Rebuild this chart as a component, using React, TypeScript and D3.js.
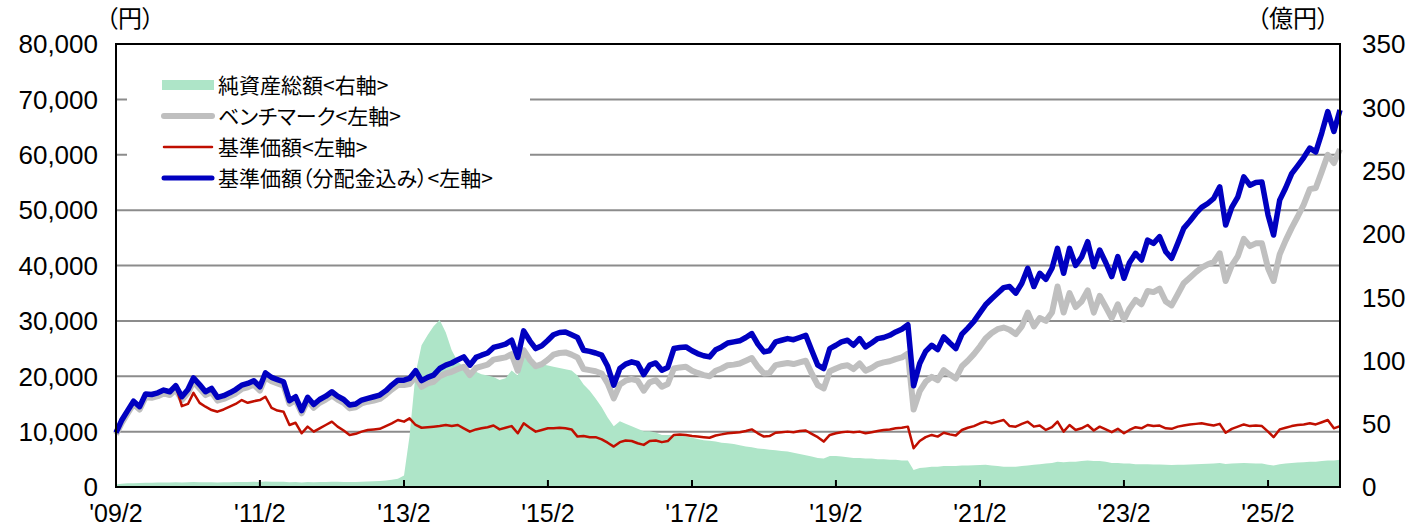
import React from 'react';
import * as d3 from 'd3';

// monthly closes, 2009/2 .. 2026/2
const startMonth = new Date(2009, 1, 1);
const endMonth = new Date(2026, 1, 1);

// 基準価額（分配金込み） 円
const navReinvested = [
  9800, 12000, 13800, 15500, 14500, 16800, 16700, 17000, 17500, 17200, 18300, 16300,
  17600, 19700, 18500, 17200, 17800, 16200, 16500, 17000, 17600, 18400, 18700, 19200,
  18100, 20600, 19800, 19400, 19000, 15600, 16300, 13800, 16200, 14900, 15800, 16400,
  17200, 16400, 15800, 14800, 15000, 15700, 16000, 16300, 16600, 17400, 18400, 19300,
  19300, 19600, 21000, 19200, 19800, 20200, 21400, 22000, 22400, 23000, 23500, 22000,
  23400, 23800, 24200, 25200, 25500, 25800, 26500, 23400, 28200, 26400, 25000, 25500,
  26500, 27500, 27900, 28000, 27500, 27000, 24700, 24500, 24200, 23800, 21800, 18400,
  21400, 22200, 22600, 22300, 20300, 22000, 22400, 21100, 21600, 25000, 25200, 25300,
  24600, 24100, 23700, 23500, 24800, 25300, 26000, 26200, 26400, 27000, 27700, 25800,
  24400, 24600, 26200, 26500, 26800, 26600, 27000, 27400, 24700, 22000, 21400, 25000,
  25600, 26200, 26500, 25600, 26800, 25300, 26000, 26800, 27000, 27400, 28000, 28500,
  29300, 18300, 22300, 24500, 25600, 24800, 27100, 26000, 25000, 27600, 28700, 29900,
  31500, 32900, 34000, 35000, 36000, 36200, 35000, 36800, 39500, 36200, 38600, 37500,
  39500, 43100, 38600, 43100, 40000, 41500, 44300, 39800, 42800, 40500, 38000, 41600,
  37700, 40500, 42200, 41000, 44600, 44000, 45200, 42500, 41300, 44000, 46700, 48000,
  49400, 50500, 51200, 52100, 54200, 47300, 50500, 52400, 56000, 54500, 55000, 55100,
  49100, 45500, 51800, 54000, 56600, 58000, 59500, 61200, 60500, 64000, 67800, 64200,
  68100,
];

// ベンチマーク 円
const benchmark = [
  9500, 11500, 13300, 15000, 14000, 16200, 16100, 16400, 16900, 16600, 17600, 15700,
  17000, 19000, 17800, 16600, 17100, 15600, 15900, 16400, 16900, 17700, 18000, 18500,
  17400, 19800, 19100, 18700, 18300, 15000, 15700, 13300, 15600, 14300, 15200, 15800,
  16500, 15800, 15200, 14200, 14400, 15100, 15400, 15600, 15900, 16700, 17600, 18400,
  18400, 18600, 19900, 18100, 18700, 19000, 20000, 20500, 20800, 21300, 21700, 20200,
  21500, 21800, 22100, 23000, 23200, 23400, 24000, 21000, 24700, 23000, 21800, 22200,
  23000, 23900, 24200, 24300, 23900, 23400, 21300, 21100, 20900, 20500, 18700, 16000,
  18500, 19200, 19500, 19200, 17400, 18900, 19300, 18100, 18600, 21400, 21600, 21700,
  21000, 20600, 20200, 20000, 21000, 21400, 22000, 22100, 22300, 22800, 23300, 21700,
  20500, 20600, 22000, 22200, 22400, 22200, 22500, 22800, 20500, 18400, 17800, 20900,
  21400, 21800, 22000, 21300, 22300, 21000, 21500, 22200, 22500, 22700, 23100, 23400,
  24100, 14000, 17300, 19000, 19900, 19300, 21100, 20300, 19600, 21800, 22800, 24000,
  25400, 26800, 27800, 28500, 28800, 28400, 27600, 29000, 31500, 29000, 30500, 30000,
  31500, 36200, 31500, 35000, 32500, 33500, 35500, 31500, 34500, 32500, 30500, 33000,
  30200, 32200, 33800, 33000, 35400, 35200, 35800, 33500, 32800, 34800, 36800, 37800,
  38800, 39600, 40200, 40600, 42200, 37200, 40000, 41700, 44800, 43500, 44000, 44000,
  39500, 37200, 42000, 44500, 46800, 48800, 51000, 53800, 54000, 57000, 60000, 58500,
  61000,
];

// 基準価額 円
const nav = [
  9800, 12000, 13800, 15500, 14500, 16800, 16700, 17000, 17500, 17200, 18300, 14600,
  15000, 17000, 15200, 14500, 13900, 13600, 14000, 14500, 15000, 15700, 15200, 15500,
  15700, 16300, 14300, 13800, 13600, 11200, 11600, 9700, 10900, 10000, 10600, 11200,
  11800, 10900, 10200, 9400, 9600, 10000, 10300, 10400, 10500, 11000, 11500, 12100,
  11800, 12400, 11200, 10700, 10800, 10900, 11000, 11200, 11000, 11200, 10600, 10000,
  10400, 10600, 10800, 11100, 10400, 10700, 11000, 9700, 11500, 10700, 10000, 10300,
  10600, 10600, 10700, 10600, 10400, 9100, 9200, 9000, 9000, 8600, 8000, 7300,
  8100, 8400, 8300, 7900, 7600, 8300, 8400, 8100, 8300, 9400, 9500, 9400,
  9200, 9100, 9000, 8900, 9300, 9500, 9700, 9800, 9900, 10100, 10400, 9700,
  9100, 9200, 9800, 9900, 10000, 9900, 10100, 10200, 9600, 9000, 8200, 9400,
  9700, 9900, 10000, 9900, 10000, 9700, 9900, 10100, 10300, 10400, 10600, 10700,
  10900, 7000, 8300, 9000, 9400, 9100, 9800, 9500, 9300, 10300, 10700, 11000,
  11500, 11800, 11500, 11800, 12100, 11000, 10900, 11400, 11800, 10900, 11100, 10300,
  10800, 11800, 10000, 11200, 10300, 10600, 11200, 10200, 10900, 10400, 9900, 10500,
  9700, 10300, 10800, 10600, 11200, 11000, 11100, 10600, 10500, 10900, 11100, 11300,
  11400, 11500, 11300, 11100, 11400, 9800, 10500, 10900, 11300, 11000, 11100, 11000,
  10000, 9000, 10400, 10700, 11000, 11200, 11300, 11500, 11300, 11700, 12100, 10600,
  11000,
];

// 純資産総額 億円
const netAssets = [
  2, 2.5, 3, 3, 3.2, 3.3, 3.4, 3.5, 3.5, 3.6, 3.7, 3.6,
  3.7, 3.9, 3.8, 3.7, 3.8, 3.6, 3.7, 3.8, 3.9, 4, 4, 4.1,
  4, 4.3, 4.2, 4.2, 4.1, 3.8, 3.9, 3.6, 3.9, 3.8, 3.9, 4,
  4.2, 4.1, 4, 3.9, 4, 4.2, 4.4, 4.6, 4.8, 5.2, 5.8, 6.5,
  9, 40, 90, 112, 120, 127, 132, 122, 108, 99, 95, 92,
  91, 89, 88, 87, 84.5, 86, 92, 88, 104, 100, 96, 97,
  96, 95, 94, 93, 92, 88, 81, 76, 70, 63, 55, 48,
  52, 50, 48, 46, 44, 44, 43, 41, 41, 41, 40.5, 40,
  39, 38, 37, 36.5, 36, 35, 34.5, 34, 33, 32, 31.5, 30.5,
  30, 29.5, 29, 28.5, 28, 27, 26, 25, 24, 23, 22.5, 24.5,
  24.5, 24, 23.5, 23, 23, 22.5, 22.5, 22, 22, 21.5, 21.5, 21,
  21, 13.5, 15, 15.5, 16, 16, 16.5, 16.5, 16.5, 17, 17, 17.2,
  17.4, 17.5, 17, 16.5, 16, 16, 16, 16.5, 17, 17.5, 18, 18.5,
  19, 20, 19.5, 20, 20, 20.5, 21, 20.5, 20.5, 20, 19, 19,
  18.5, 18.5, 18, 18, 18, 17.8, 17.8, 17.5, 17.4, 17.5, 17.6, 17.8,
  18, 18.2, 18.4, 18.6, 19, 18.2, 18.5, 18.7, 19, 18.8, 18.6, 18.5,
  17.5, 17, 18, 18.5, 19, 19.3, 19.6, 20, 20, 20.5, 21, 21,
  21.5,
];

const leftTicks = [0, 10000, 20000, 30000, 40000, 50000, 60000, 70000, 80000];
const rightTicks = [0, 50, 100, 150, 200, 250, 300, 350];
const xTickLabels = ["'09/2", "'11/2", "'13/2", "'15/2", "'17/2", "'19/2", "'21/2", "'23/2", "'25/2"];

const legendItems = [
  { label: '純資産総額<右軸>', kind: 'area', color: '#aee5c8' },
  { label: 'ベンチマーク<左軸>', kind: 'line', color: '#bfbfbf', width: 6 },
  { label: '基準価額<左軸>', kind: 'line', color: '#c00f00', width: 2.5 },
  { label: '基準価額（分配金込み）<左軸>', kind: 'line', color: '#0000c0', width: 5 },
];

const W = 1407;
const H = 529;
const left = 116;
const right = 1340;
const top = 44;
const bottom = 487;

const numFont = '"Liberation Sans", Arial, sans-serif';
const jpFont = '"Noto Sans CJK JP", "Noto Sans", sans-serif';

export default function App() {
  const months = d3.timeMonth.range(startMonth, d3.timeMonth.offset(endMonth, 1));
  const x = d3.scaleTime().domain([startMonth, endMonth]).range([left, right]);
  const yL = d3.scaleLinear().domain([0, 80000]).range([bottom, top]);
  const yR = d3.scaleLinear().domain([0, 350]).range([bottom, top]);
  const parseTick = d3.timeParse("'%y/%m");

  const lineL = d3.line<number>()
    .x((_, i) => x(months[i]))
    .y((d) => yL(d));
  const areaR = d3.area<number>()
    .x((_, i) => x(months[i]))
    .y0(bottom)
    .y1((d) => yR(d));

  return (
    <svg width={W} height={H} style={{ position: 'absolute', left: 0, top: 0, background: '#fff' }}>
      {/* grid */}
      {leftTicks.slice(1, -1).map((t) => (
        <line key={t} x1={left} x2={right} y1={yL(t)} y2={yL(t)} stroke="#8c8c8c" strokeWidth={2} />
      ))}

      <path d={areaR(netAssets) || ''} fill="#aee5c8" />
      <path d={lineL(benchmark) || ''} fill="none" stroke="#bfbfbf" strokeWidth={6} strokeLinejoin="round" />
      <path d={lineL(nav) || ''} fill="none" stroke="#c00f00" strokeWidth={2.5} strokeLinejoin="round" />
      <path d={lineL(navReinvested) || ''} fill="none" stroke="#0000c0" strokeWidth={5.5} strokeLinejoin="round" />

      {/* frame */}
      <rect x={left} y={top} width={right - left} height={bottom - top} fill="none" stroke="#000" strokeWidth={2} />
      {xTickLabels.map((l) => {
        const d = parseTick(l) as Date;
        return <line key={l} x1={x(d)} x2={x(d)} y1={bottom} y2={bottom - 7} stroke="#000" strokeWidth={2} />;
      })}

      {/* legend */}
      <rect x={127} y={62} width={403} height={136} fill="#fff" />
      {legendItems.map((it, i) => {
        const cy = 85 + i * 31;
        return (
          <g key={it.label}>
            {it.kind === 'area' ? (
              <rect x={162} y={cy - 5} width={52} height={10} fill={it.color} />
            ) : (
              <line x1={164} x2={212} y1={cy} y2={cy} stroke={it.color} strokeWidth={it.width} strokeLinecap="round" />
            )}
            <text x={218} y={cy} dy="0.36em" fontSize={21} fontFamily={jpFont} style={{ fontFeatureSettings: '"palt"' }} fill="#000">
              {it.label}
            </text>
          </g>
        );
      })}

      {/* left axis labels */}
      {leftTicks.map((t) => (
        <text key={t} x={98} y={yL(t)} dy="0.36em" textAnchor="end" fontSize={26} fontFamily={numFont} fill="#000">
          {d3.format(',')(t)}
        </text>
      ))}
      {/* right axis labels */}
      {rightTicks.map((t) => (
        <text key={t} x={1362} y={yR(t)} dy="0.36em" textAnchor="start" fontSize={26} fontFamily={numFont} fill="#000">
          {t}
        </text>
      ))}
      {/* x labels */}
      {xTickLabels.map((l) => {
        const d = parseTick(l) as Date;
        return (
          <text key={l} x={x(d)} y={522} textAnchor="middle" fontSize={25} fontFamily={numFont} fill="#000">
            {l}
          </text>
        );
      })}

      <text x={106} y={18} dy="0.36em" fontSize={24} fontFamily={jpFont} style={{ fontFeatureSettings: '"palt"' }} fill="#000">
        （円）
      </text>
      <text x={1257} y={18} dy="0.36em" fontSize={24} fontFamily={jpFont} style={{ fontFeatureSettings: '"palt"' }} fill="#000">
        （億円）
      </text>
    </svg>
  );
}
